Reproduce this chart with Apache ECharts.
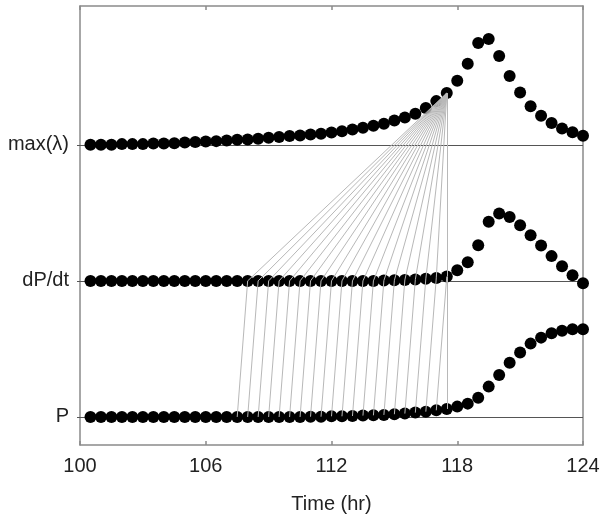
<!DOCTYPE html>
<html>
<head>
<meta charset="utf-8">
<script src="https://cdn.jsdelivr.net/npm/echarts@6/dist/echarts.min.js"></script>
<style>
  html, body { margin: 0; padding: 0; background: #fff; }
  #chart { width: 604px; height: 520px; }
</style>
</head>
<body>
<div id="chart"></div>
<script>
// sample times (hr)
const times = [100.5, 101, 101.5, 102, 102.5, 103, 103.5, 104, 104.5, 105, 105.5, 106,
  106.5, 107, 107.5, 108, 108.5, 109, 109.5, 110, 110.5, 111, 111.5, 112,
  112.5, 113, 113.5, 114, 114.5, 115, 115.5, 116, 116.5, 117, 117.5, 118,
  118.5, 119, 119.5, 120, 120.5, 121, 121.5, 122, 122.5, 123, 123.5, 124];

// signals, each relative to its own baseline (baseline spacing = 100)
const maxLambda = [0, 0, 0, 0.5, 0.5, 0.5, 1, 1, 1.2, 1.7, 2, 2.4,
  2.7, 3.2, 3.7, 3.9, 4.4, 5.1, 5.7, 6.4, 6.8, 7.6, 8.1, 9.1,
  10, 11.3, 12.5, 14, 15.4, 17.9, 20.1, 22.8, 27, 32.1, 38, 47,
  59.6, 74.8, 77.7, 65.2, 50.5, 38.5, 28.4, 21.3, 16, 12, 9.3, 6.6];
const dPdt = [0, 0, 0, 0, 0, 0, 0, 0, 0, 0, 0, 0,
  0, 0, 0, 0, 0, 0, 0, 0, 0, 0, 0, 0,
  0, 0, 0, 0, 0.3, 0.5, 0.7, 1, 1.5, 2.2, 3.2, 7.9,
  13.7, 26.2, 43.4, 49.5, 47, 40.9, 33.6, 26, 18.2, 10.8, 4.2, -1.7];
const P = [0, 0, 0, 0, 0, 0, 0, 0, 0, 0, 0, 0,
  0, 0, 0, 0, 0, 0, 0, 0, 0, 0.2, 0.2, 0.5,
  0.5, 0.7, 1, 1.2, 1.5, 2, 2.5, 3.2, 3.9, 4.9, 5.9, 7.6,
  9.8, 14.2, 22.3, 30.9, 39.9, 47.3, 53.9, 58.3, 61.5, 63.4, 64.4, 64.4];

// row labels and their baselines
const rowLabels = ["P", "dP/dt", "max(λ)"];
const rowBase = [0, 100, 200];
const xTicks = [100, 106, 112, 118, 124];

// alignment pairs (times): P -> dP/dt, dP/dt -> max(λ)
const alignPT = [107.5, 108, 108.5, 109, 109.5, 110, 110.5, 111, 111.5, 112, 112.5,
  113, 113.5, 114, 114.5, 115, 115.5, 116, 116.5, 117, 117.5];
const alignDT1 = [108, 108.5, 109, 109.5, 110, 110.5, 111, 111.5, 112, 112.5, 113,
  113.5, 114, 114.5, 115, 115.5, 116, 116.5, 117, 117.5, 117.5];
const alignDT2 = [108, 108.5, 109, 109.5, 110, 110.5, 111, 111.5, 112, 112.5,
  113, 113.5, 114, 114.5, 115, 115.5, 116, 116.5, 117, 117.5];
const alignMT = [117.5, 117.5, 117.5, 117.5, 117.5, 117.5, 117.5, 117.5, 117.5, 117.5,
  117.5, 117.5, 117.5, 117.5, 117.5, 117.5, 117.5, 117.5, 117.5, 117.5];

const rows = [P, dPdt, maxLambda];
const at = (row, t) => rows[row][times.indexOf(t)] + rowBase[row];

const chart = echarts.init(document.getElementById("chart"));

const axisGrey = "#8a8a8a";
const font = "Liberation Sans, Arial, sans-serif";

function dotSeries(row) {
  return {
    type: "scatter",
    symbolSize: 12,
    itemStyle: { color: "#000", opacity: 1 },
    z: 3,
    data: times.map((t, i) => [t, rows[row][i] + rowBase[row]]),
    markLine: {
      silent: true,
      symbol: ["none", "none"],
      label: { show: false },
      lineStyle: { color: "#555", type: "solid", width: 1 },
      data: [{ yAxis: rowBase[row] }],
      z: 1,
    },
  };
}

const lowerLinks = alignPT.map((t, i) => ({
  coords: [[t, at(0, t)], [alignDT1[i], at(1, alignDT1[i])]],
}));
const upperLinks = alignDT2.map((t, i) => ({
  coords: [[t, at(1, t)], [alignMT[i], at(2, alignMT[i])]],
}));

chart.setOption({
  backgroundColor: "#fff",
  animation: false,
  grid: { left: 80, right: 21, top: 6, bottom: 75 },
  xAxis: [
    {
      type: "value",
      min: 100,
      max: 124,
      name: "Time (hr)",
      nameLocation: "middle",
      nameGap: 49,
      nameTextStyle: { fontFamily: font, fontSize: 20, color: "#222" },
      axisLine: { onZero: false, lineStyle: { color: axisGrey, width: 1.5 } },
      axisTick: { inside: true, length: 4, customValues: xTicks, lineStyle: { color: axisGrey, width: 1.5 } },
      axisLabel: { customValues: xTicks, margin: 11, fontFamily: font, fontSize: 20, color: "#222" },
      splitLine: { show: false },
    },
    {
      type: "value",
      position: "top",
      min: 100,
      max: 124,
      axisLine: { show: true, onZero: false, lineStyle: { color: axisGrey, width: 1.5 } },
      axisTick: { inside: true, length: 4, customValues: xTicks, lineStyle: { color: axisGrey, width: 1.5 } },
      axisLabel: { show: false },
      splitLine: { show: false },
    },
  ],
  yAxis: [
    {
      type: "value",
      min: -20.6,
      max: 302,
      axisLine: { show: true, onZero: false, lineStyle: { color: axisGrey, width: 1.5 } },
      axisTick: { show: true, length: 3, customValues: rowBase, lineStyle: { color: "#555" } },
      axisLabel: {
        customValues: rowBase,
        margin: 11,
        fontFamily: font,
        fontSize: 20,
        color: "#222",
        formatter: (v) => rowLabels[rowBase.indexOf(v)] ?? "",
      },
      splitLine: { show: false },
    },
    {
      type: "value",
      position: "right",
      min: -20.6,
      max: 302,
      axisLine: { show: true, onZero: false, lineStyle: { color: axisGrey, width: 1.5 } },
      axisTick: { show: false },
      axisLabel: { show: false },
      splitLine: { show: false },
    },
  ],
  series: [
    dotSeries(0),
    dotSeries(1),
    dotSeries(2),
    {
      type: "lines",
      coordinateSystem: "cartesian2d",
      z: 4,
      silent: true,
      lineStyle: { color: "#b8b8b8", width: 1, opacity: 1 },
      data: lowerLinks.concat(upperLinks),
    },
  ],
});
</script>
</body>
</html>
